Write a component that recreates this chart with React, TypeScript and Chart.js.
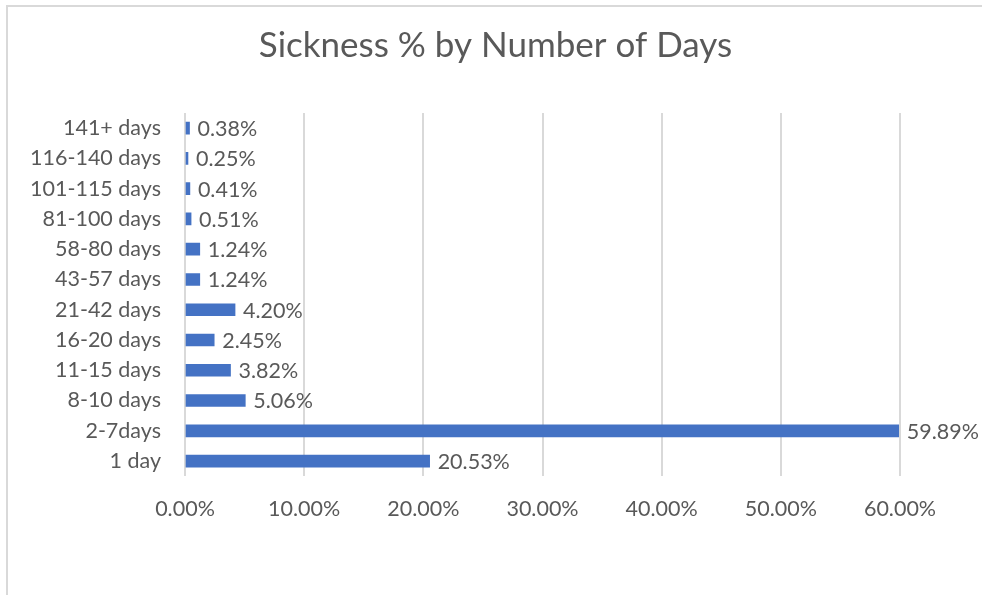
import React, { useEffect, useRef } from "react";
import { Chart, registerables } from "chart.js";

Chart.register(...registerables);

const categories = [
  "141+ days",
  "116-140 days",
  "101-115 days",
  "81-100 days",
  "58-80 days",
  "43-57 days",
  "21-42 days",
  "16-20 days",
  "11-15 days",
  "8-10 days",
  "2-7days",
  "1 day",
];
const sicknessPct = [0.38, 0.25, 0.41, 0.51, 1.24, 1.24, 4.2, 2.45, 3.82, 5.06, 59.89, 20.53];
const axisMax = 60;
const axisStep = 10;
const titleText = "Sickness % by Number of Days";

const FONT = "Lato";
const TEXT = "#595959";

const framePlugin = {
  id: "frame",
  beforeDraw(chart: any) {
    const { ctx, width, height } = chart;
    ctx.save();
    ctx.fillStyle = "#ffffff";
    ctx.fillRect(0, 0, width, height);
    ctx.strokeStyle = "#d9d9d9";
    ctx.lineWidth = 2;
    ctx.beginPath();
    ctx.moveTo(7, height);
    ctx.lineTo(7, 6);
    ctx.lineTo(width, 6);
    ctx.stroke();
    ctx.restore();
  },
  afterDraw(chart: any) {
    const { ctx } = chart;
    ctx.save();
    ctx.font = `35px ${FONT}`;
    ctx.fillStyle = TEXT;
    ctx.textAlign = "center";
    ctx.textBaseline = "middle";
    ctx.fillText(titleText, 495.5, 46);
    ctx.restore();
  },
};

const labelPlugin = {
  id: "barLabels",
  afterDatasetsDraw(chart: any) {
    const { ctx } = chart;
    const meta = chart.getDatasetMeta(0);
    const data = chart.data.datasets[0].data as number[];
    ctx.save();
    ctx.font = `21.5px ${FONT}`;
    ctx.fillStyle = TEXT;
    ctx.textAlign = "left";
    ctx.textBaseline = "middle";
    meta.data.forEach((bar: any, i: number) => {
      ctx.fillText(data[i].toFixed(2) + "%", bar.x + 8, bar.y + 1);
    });
    ctx.restore();
  },
};

export default function App() {
  const ref = useRef<HTMLCanvasElement>(null);
  useEffect(() => {
    if (!ref.current) return;
    const chart = new Chart(ref.current, {
      type: "bar",
      data: {
        labels: categories,
        datasets: [
          {
            data: sicknessPct,
            backgroundColor: "#4472C4",
            barThickness: 12,
          },
        ],
      },
      options: {
        indexAxis: "y",
        animation: false,
        responsive: false,
        layout: { padding: { left: 0, right: 82, top: 113, bottom: 53 } },
        plugins: {
          legend: { display: false },
          tooltip: { enabled: false },
          title: { display: false },
        },
        scales: {
          x: {
            min: 0,
            max: axisMax,
            ticks: {
              stepSize: axisStep,
              color: TEXT,
              font: { family: FONT, size: 21.5 },
              padding: 20,
              callback: (v: any) => Number(v).toFixed(2) + "%",
            },
            grid: { color: "#d9d9d9", lineWidth: 2, drawTicks: false },
            border: { display: false },
          },
          y: {
            ticks: {
              color: TEXT,
              font: { family: FONT, size: 21.5 },
              padding: 24,
              autoSkip: false,
            },
            grid: { display: false, drawTicks: false },
            border: { display: false },
            afterFit: (scale: any) => {
              scale.width = 185;
            },
          },
        },
      },
      plugins: [framePlugin, labelPlugin],
    });
    return () => chart.destroy();
  }, []);
  return (
    <div style={{ position: "fixed", left: 0, top: 0, width: 982, height: 595, background: "#fff" }}>
      <canvas ref={ref} width={982} height={595} style={{ display: "block" }} />
    </div>
  );
}
